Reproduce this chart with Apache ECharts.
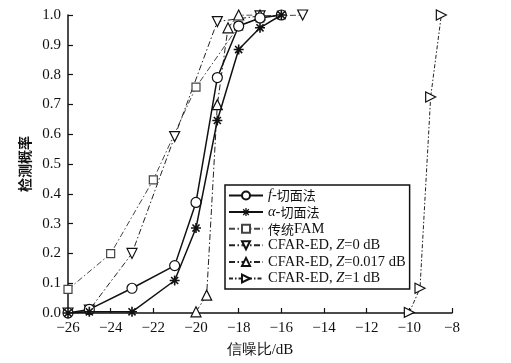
<!DOCTYPE html>
<html><head><meta charset="utf-8">
<script src="https://cdn.jsdelivr.net/npm/echarts@6/dist/echarts.min.js"></script>
<style>html,body{margin:0;padding:0;background:#fff}#c{width:511px;height:363px}</style>
</head><body><div id="c"></div>
<script>
// ---- data ----
const fCut = [[-26,0.0],[-25,0.012],[-23,0.083],[-21,0.159],[-20,0.371],[-19,0.79],[-18,0.963],[-17,0.99],[-16,1.0]];
const alphaCut = [[-26,0.0],[-25,0.004],[-23,0.004],[-21,0.109],[-20,0.285],[-19,0.646],[-18,0.884],[-17,0.957],[-16,1.0]];
const fam = [[-26,0.079],[-24,0.199],[-22,0.447],[-20,0.758],[-18,0.963],[-17,0.99],[-16,1.0]];
const cfar0 = [[-26,0.0],[-25,0.01],[-23,0.2],[-21,0.592],[-19,0.978],[-17,0.997],[-15,1.0]];
const cfar0017 = [[-20,0.004],[-19.5,0.06],[-19,0.699],[-18.5,0.957],[-18,1.0],[-17,1.0]];
const cfar1 = [[-10,0.002],[-9.5,0.083],[-9,0.725],[-8.5,1.0]];
const names = ['f-切面法','α-切面法','传统FAM','CFAR-ED, Z=0 dB','CFAR-ED, Z=0.017 dB','CFAR-ED, Z=1 dB'];
const xTicks = [-26,-24,-22,-20,-18,-16,-14,-12,-10,-8];
const yTicks = [0,0.1,0.2,0.3,0.4,0.5,0.6,0.7,0.8,0.9,1.0];

const star = 'path://M-5,-0.8L5,-0.8L5,0.8L-5,0.8Z M-0.8,-5L0.8,-5L0.8,5L-0.8,5Z M-2.97,-4.10L4.10,2.97L2.97,4.10L-4.10,-2.97Z M4.10,-2.97L-2.97,4.10L-4.10,2.97L2.97,-4.10Z';
const serif = '"Liberation Serif","Times New Roman",serif';
const cjk = '"Noto Sans CJK SC",sans-serif';

const chart = echarts.init(document.getElementById('c'));
function mk(name, data, opt){
  return Object.assign({
    name, type:'line', data, smooth:false, symbolSize:9,
    itemStyle:{color:'#fff', borderColor:'#111', borderWidth:1.2},
    lineStyle:{color:'#111', width:1.5}, z:3
  }, opt);
}
const dashdot = [6,2.5,1.5,2.5];
chart.setOption({
  animation:false,
  backgroundColor:'#fff',
  grid:{left:68, right:59, top:15, bottom:46, containLabel:false},
  xAxis:{type:'value', min:-26, max:-8, interval:2,
    name:'信噪比/dB', nameLocation:'middle', nameGap:30,
    nameTextStyle:{fontFamily:serif, fontSize:15, color:'#111'},
    axisLine:{onZero:false, lineStyle:{color:'#111', width:1.5}},
    axisTick:{inside:true, length:5, lineStyle:{color:'#111', width:1.2}},
    axisLabel:{fontFamily:serif, fontSize:15, color:'#111', margin:8,
      formatter:v=> xTicks.includes(v) ? String(v).replace('-','−') : ''},
    splitLine:{show:false}},
  yAxis:{type:'value', min:0, max:1, interval:0.1,
    name:'检测概率', nameLocation:'middle', nameGap:32, nameRotate:90,
    nameTextStyle:{fontFamily:cjk, fontSize:14, color:'#111', fontWeight:'bold'},
    axisLine:{onZero:false, lineStyle:{color:'#111', width:1.5}},
    axisTick:{inside:true, length:5, lineStyle:{color:'#111', width:1.2}},
    axisLabel:{fontFamily:serif, fontSize:15, color:'#111', margin:7,
      formatter:v=>{const t=yTicks.find(k=>Math.abs(k-v)<1e-6); return t===undefined?'':t.toFixed(1);}},
    splitLine:{show:false}},
  legend:{orient:'vertical', left:225, top:185, width:181,
    backgroundColor:'#fff', borderColor:'#111', borderWidth:1.5, borderRadius:0,
    padding:[3,4,3,3], itemWidth:34, itemHeight:10, itemGap:1.6,
    textStyle:{fontFamily:serif, fontSize:14.5, color:'#111', lineHeight:14,
      rich:{i:{fontFamily:serif, fontSize:14.5, fontStyle:'italic', lineHeight:14},
            c:{fontFamily:cjk, fontSize:13, lineHeight:14}}},
    formatter:n=>{
      if(n===names[0]) return '{i|f}-{c|切面法}';
      if(n===names[1]) return '{i|α}-{c|切面法}';
      if(n===names[2]) return '{c|传统}FAM';
      return n.replace('Z=','{i|Z}=');
    },
    data:names},
  series:[
    mk(names[0], fCut, {symbol:'circle', symbolSize:10, z:5}),
    mk(names[1], alphaCut, {symbol:star, symbolSize:10, itemStyle:{color:'#111', borderColor:'#111', borderWidth:0}, z:6}),
    mk(names[2], fam, {symbol:'rect', symbolSize:8, itemStyle:{color:'#fff', borderColor:'#444', borderWidth:1.2}, lineStyle:{color:'#444', width:1, type:dashdot}}),
    mk(names[3], cfar0, {symbol:'triangle', symbolRotate:180, symbolSize:10, lineStyle:{color:'#222', width:1, type:dashdot}}),
    mk(names[4], cfar0017, {symbol:'triangle', symbolSize:10, lineStyle:{color:'#222', width:1, type:dashdot}}),
    mk(names[5], cfar1, {symbol:'triangle', symbolRotate:-90, symbolSize:10, lineStyle:{color:'#222', width:1, type:[4,2,1.5,2]}})
  ]
});
</script></body></html>
